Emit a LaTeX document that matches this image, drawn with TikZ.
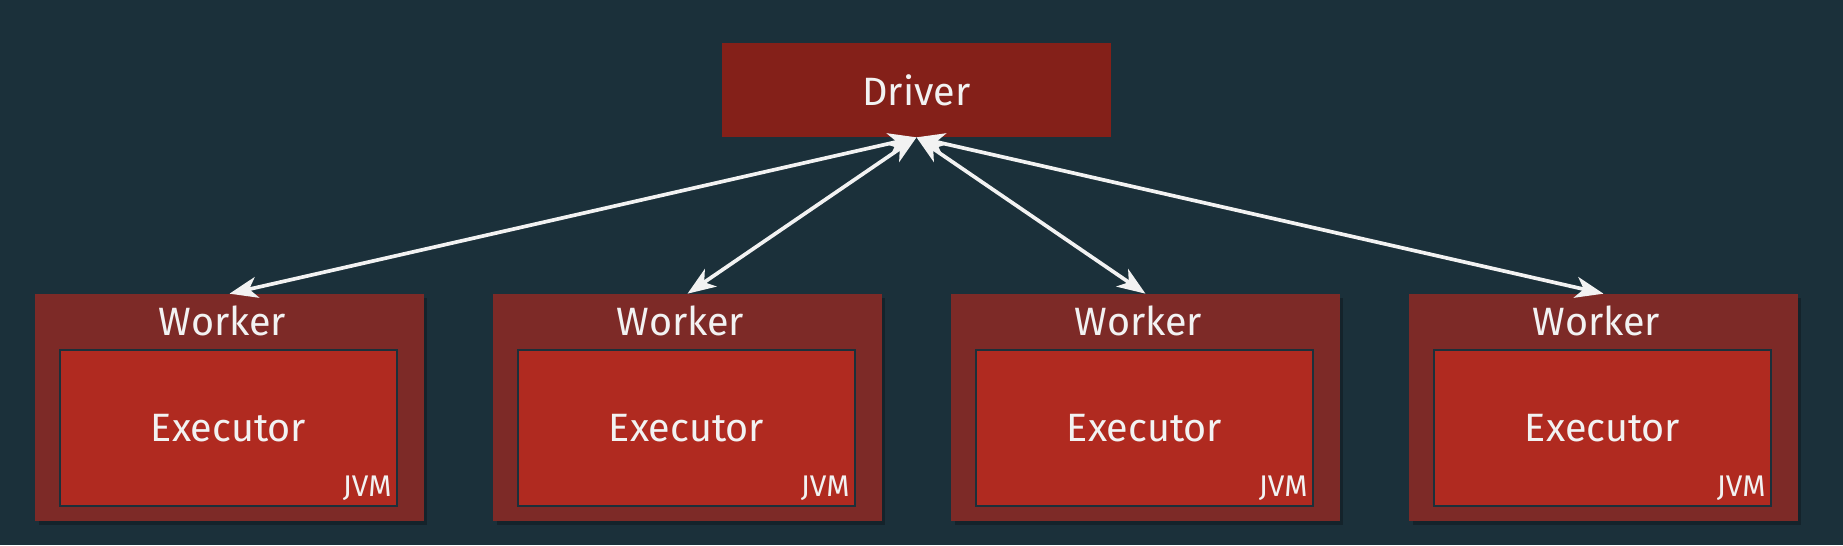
\documentclass[tikz,border=0pt]{standalone}
\usepackage{fontspec}
\setmainfont{Fira Sans}
\usetikzlibrary{arrows.meta,shadows}
\definecolor{bgcol}{HTML}{1B303A}
\definecolor{drivercol}{HTML}{842019}
\definecolor{workercol}{HTML}{7D2A27}
\definecolor{execcol}{HTML}{B02A20}
\definecolor{txtcol}{HTML}{F2F2F2}
\begin{document}
\begin{tikzpicture}[x=0.02cm,y=-0.02cm,
  box/.style={inner sep=0pt, text=txtcol, font=\fontsize{22.5}{26}\selectfont},
  workerbox/.style={box, fill=workercol, minimum width=7.78cm, minimum height=4.54cm,
    drop shadow={fill=black, opacity=0.25, shadow xshift=2pt, shadow yshift=-2pt}},
  execbox/.style={box, fill=execcol, draw=bgcol, line width=1.1pt, minimum width=6.74cm, minimum height=3.12cm},
  link/.style={draw=txtcol, line width=2.1pt, {Stealth[length=16pt,width=12pt,inset=4.5pt]}-{Stealth[length=16pt,width=12pt,inset=4.5pt]}}]
%\draw[step=100,gray,very thin] (0,0) grid (1843,545);
\fill[bgcol] (0,0) rectangle (1843,545);
\node[box, fill=drivercol, minimum width=7.78cm, minimum height=1.88cm] (driver) at (916.5,90) {Driver};
\foreach \i in {1,...,4} {
  \pgfmathsetmacro{\cx}{229.5+458*(\i-1)}
  \node[workerbox] (w\i) at (\cx,407.5) {};
  \node[box] (wl\i) at (\cx-7,321) {Worker};
  \node[execbox] (e\i) at (\cx-1,428) {Executor};
  \node[box, font=\fontsize{17}{19}\selectfont, anchor=south east] (jvm\i) at ([xshift=-0.12cm,yshift=0.12cm]e\i.south east) {JVM};
  \draw[link] (driver.south) -- (w\i.north);
}
\end{tikzpicture}
\end{document}
